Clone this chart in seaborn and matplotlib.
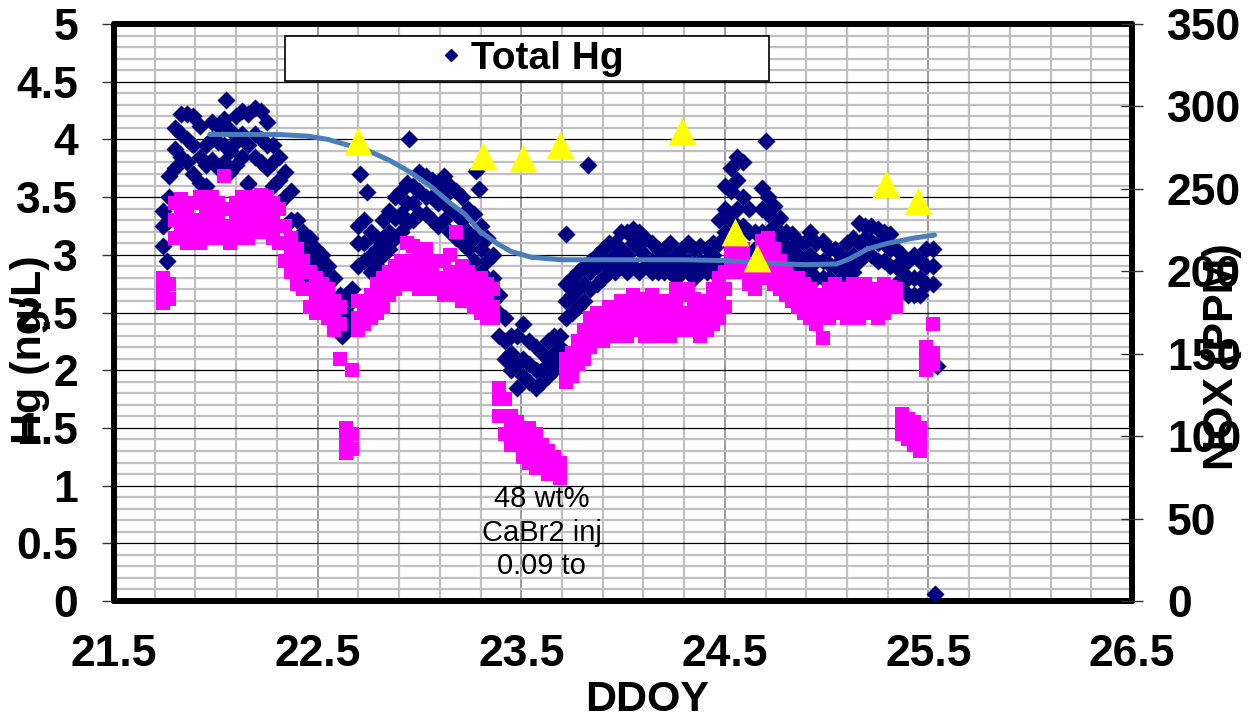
import numpy as np
import pandas as pd
import matplotlib
matplotlib.use("Agg")
import matplotlib.pyplot as plt
import seaborn as sns
from matplotlib.lines import Line2D
from matplotlib.patches import Rectangle

# ---------------- data ----------------
ddoy = [21.74, 21.77, 21.80, 21.83, 21.86, 21.89, 21.92, 21.95, 21.98, 22.01,
        22.04, 22.07, 22.10, 22.13, 22.16, 22.19, 22.22, 22.25, 22.28, 22.31,
        22.34, 22.37, 22.40, 22.43, 22.46, 22.49, 22.52, 22.55, 22.58, 22.61,
        22.64, 22.67, 22.70, 22.73, 22.76, 22.79, 22.82, 22.85, 22.88, 22.91,
        22.94, 22.97, 23.00, 23.03, 23.06, 23.09, 23.12, 23.15, 23.18, 23.21,
        23.24, 23.27, 23.30, 23.33, 23.36, 23.39, 23.42, 23.45, 23.48, 23.51,
        23.54, 23.57, 23.60, 23.63, 23.66, 23.69, 23.72, 23.75, 23.78, 23.81,
        23.84, 23.87, 23.90, 23.93, 23.96, 23.99, 24.02, 24.05, 24.08, 24.11,
        24.14, 24.17, 24.20, 24.23, 24.26, 24.29, 24.32, 24.35, 24.38, 24.41,
        24.44, 24.47, 24.50, 24.53, 24.56, 24.59, 24.62, 24.65, 24.68, 24.71,
        24.74, 24.77, 24.80, 24.83, 24.86, 24.89, 24.92, 24.95, 24.98, 25.01,
        25.04, 25.07, 25.10, 25.13, 25.16, 25.19, 25.22, 25.25, 25.28, 25.31,
        25.34, 25.37, 25.40, 25.43, 25.46, 25.49, 25.52]

total_hg_lo = [3.08, 3.30, 3.75, 3.85, 3.80, 3.70, 3.62, 3.60, 3.82, 3.75,
               3.80, 3.72, 3.78, 3.85, 3.62, 3.85, 3.80, 3.75, 3.60, 3.45,
               3.25, 3.10, 2.95, 2.85, 2.80, 2.75, 2.70, 2.60, 2.45, 2.40,
               2.35, 2.45, 2.90, 2.95, 2.85, 2.90, 3.00, 3.05, 3.15, 3.20,
               3.28, 3.30, 3.35, 3.35, 3.30, 3.25, 3.30, 3.20, 3.15, 3.10,
               3.05, 2.95, 2.85, 2.75, 2.60, 2.30, 2.10, 2.00, 1.85, 1.95,
               1.90, 1.85, 1.90, 1.95, 2.00, 2.10, 2.45, 2.50, 2.55, 2.60,
               2.70, 2.75, 2.80, 2.85, 2.85, 2.90, 2.85, 2.90, 2.85, 2.90,
               2.85, 2.85, 2.85, 2.85, 2.80, 2.85, 2.85, 2.80, 2.85, 2.85,
               2.85, 2.90, 3.20, 3.30, 3.40, 3.25, 3.00, 2.95, 3.20, 3.15,
               3.10, 3.00, 2.95, 2.90, 2.85, 2.85, 2.85, 2.80, 2.80, 2.80,
               2.75, 2.80, 2.85, 2.85, 2.95, 3.00, 3.00, 2.95, 2.95, 2.90,
               2.75, 2.70, 2.65, 2.65, 2.65, 2.75, 2.75]
total_hg_mid = [3.25, 3.50, 3.92, 4.05, 4.00, 3.95, 3.85, 3.78, 4.00, 3.98,
                3.95, 3.90, 3.98, 4.05, 3.95, 4.05, 4.00, 3.95, 3.80, 3.65,
                3.50, 3.30, 3.10, 3.05, 3.00, 2.90, 2.85, 2.75, 2.60, 2.50,
                2.50, 2.60, 3.10, 3.10, 3.00, 3.05, 3.15, 3.20, 3.32, 3.35,
                3.45, 3.45, 3.55, 3.50, 3.50, 3.45, 3.50, 3.40, 3.35, 3.30,
                3.20, 3.15, 3.05, 2.95, 2.80, 2.50, 2.25, 2.15, 2.05, 2.10,
                2.05, 2.00, 2.00, 2.10, 2.15, 2.20, 2.60, 2.65, 2.70, 2.75,
                2.85, 2.90, 2.95, 2.95, 3.00, 3.05, 3.00, 3.10, 3.05, 3.00,
                2.95, 2.95, 2.95, 2.95, 2.90, 2.95, 2.95, 2.92, 2.95, 2.95,
                3.00, 3.10, 3.40, 3.55, 3.65, 3.50, 3.20, 3.05, 3.40, 3.35,
                3.25, 3.15, 3.08, 3.05, 3.00, 2.95, 3.00, 2.95, 2.95, 2.92,
                2.90, 2.90, 2.95, 3.00, 3.10, 3.15, 3.12, 3.10, 3.10, 3.05,
                2.90, 2.85, 2.80, 2.80, 2.80, 2.90, 2.90]
total_hg_hi = [3.38, 3.68, 4.10, 4.22, 4.22, 4.20, 4.12, 3.95, 4.15, 4.12,
               4.18, 4.08, 4.20, 4.25, 4.22, 4.27, 4.25, 4.15, 3.95, 3.85,
               3.72, 3.55, 3.30, 3.20, 3.15, 3.05, 3.00, 2.90, 2.80, 2.65,
               2.65, 2.70, 3.25, 3.30, 3.20, 3.15, 3.30, 3.38, 3.50, 3.55,
               3.62, 3.60, 3.72, 3.68, 3.65, 3.60, 3.68, 3.60, 3.55, 3.50,
               3.40, 3.35, 3.25, 3.15, 3.00, 2.65, 2.45, 2.30, 2.30, 2.40,
               2.25, 2.20, 2.15, 2.25, 2.30, 2.30, 2.75, 2.80, 2.85, 2.90,
               2.95, 3.00, 3.05, 3.10, 3.10, 3.20, 3.20, 3.22, 3.20, 3.15,
               3.10, 3.05, 3.05, 3.10, 3.00, 3.05, 3.10, 3.05, 3.08, 3.05,
               3.10, 3.30, 3.60, 3.75, 3.85, 3.80, 3.40, 3.20, 3.58, 3.50,
               3.42, 3.32, 3.20, 3.18, 3.12, 3.10, 3.20, 3.10, 3.12, 3.05,
               3.05, 3.00, 3.10, 3.15, 3.28, 3.25, 3.25, 3.22, 3.20, 3.18,
               3.05, 3.00, 2.95, 3.00, 2.95, 3.05, 3.05]
total_hg_extra_x = [21.76, 22.05, 22.16, 22.62, 22.71, 22.74, 22.95, 23.28,
                    23.29, 23.72, 23.83, 24.70, 25.53, 25.54]
total_hg_extra_y = [2.95, 4.34, 3.61, 2.30, 3.70, 3.54, 4.00, 3.73,
                    3.57, 3.18, 3.78, 3.99, 0.06, 2.04]

elem_hg_lo = [2.58, 2.62, 3.15, 3.20, 3.10, 3.15, 3.10, 3.15, 3.20, 3.15,
              3.20, 3.10, 3.15, 3.20, 3.15, 3.20, 3.25, 3.20, 3.15, 3.10,
              2.95, 2.85, 2.75, 2.70, 2.55, 2.50, 2.50, 2.45, 2.35, 2.10,
              1.28, 1.32, 2.35, 2.40, 2.45, 2.50, 2.55, 2.65, 2.70, 2.75,
              2.80, 2.75, 2.70, 2.75, 2.70, 2.70, 2.65, 2.70, 2.65, 2.60,
              2.60, 2.55, 2.50, 2.45, 2.45, 1.60, 1.45, 1.35, 1.35, 1.25,
              1.20, 1.15, 1.15, 1.10, 1.10, 1.07, 1.90, 1.95, 2.05, 2.10,
              2.20, 2.25, 2.25, 2.30, 2.30, 2.35, 2.30, 2.35, 2.40, 2.30,
              2.35, 2.30, 2.35, 2.30, 2.40, 2.35, 2.40, 2.35, 2.30, 2.35,
              2.40, 2.45, 2.55, 2.85, 2.85, 2.90, 2.75, 2.70, 2.85, 2.80,
              2.75, 2.70, 2.65, 2.60, 2.55, 2.50, 2.45, 2.40, 2.28, 2.45,
              2.50, 2.50, 2.45, 2.50, 2.45, 2.50, 2.50, 2.45, 2.50, 2.55,
              2.55, 1.45, 1.40, 1.35, 1.30, 2.00, 2.05]
elem_hg_mid = [2.70, 2.75, 3.30, 3.35, 3.25, 3.30, 3.25, 3.30, 3.35, 3.30,
               3.40, 3.25, 3.30, 3.35, 3.30, 3.35, 3.40, 3.35, 3.30, 3.25,
               3.10, 3.00, 2.90, 2.85, 2.70, 2.65, 2.60, 2.55, 2.50, 2.40,
               1.40, 1.45, 2.45, 2.50, 2.55, 2.60, 2.70, 2.75, 2.80, 2.85,
               2.95, 2.90, 2.85, 2.88, 2.85, 2.80, 2.80, 2.85, 2.80, 2.75,
               2.72, 2.70, 2.65, 2.60, 2.55, 1.75, 1.60, 1.50, 1.45, 1.40,
               1.35, 1.30, 1.25, 1.20, 1.15, 1.12, 2.00, 2.05, 2.15, 2.25,
               2.35, 2.40, 2.35, 2.45, 2.40, 2.50, 2.45, 2.50, 2.50, 2.45,
               2.50, 2.45, 2.50, 2.45, 2.55, 2.50, 2.50, 2.50, 2.45, 2.50,
               2.55, 2.60, 2.70, 2.95, 2.95, 3.00, 2.85, 2.80, 3.00, 3.00,
               2.90, 2.80, 2.75, 2.70, 2.65, 2.60, 2.55, 2.50, 2.45, 2.55,
               2.60, 2.60, 2.55, 2.60, 2.55, 2.62, 2.60, 2.55, 2.60, 2.65,
               2.62, 1.55, 1.50, 1.45, 1.40, 2.10, 2.15]
elem_hg_hi = [2.80, np.nan, 3.45, 3.48, 3.42, 3.45, 3.50, 3.40, 3.50, 3.45,
              3.68, 3.40, 3.45, 3.50, 3.45, 3.50, 3.52, 3.50, 3.45, 3.40,
              3.25, 3.15, 3.05, 2.95, 2.85, 2.80, 2.75, 2.70, 2.60, 2.55,
              1.50, 2.00, 2.60, 2.60, 2.65, 2.75, 2.80, 2.85, 2.90, 2.95,
              3.10, 3.08, 3.00, 3.05, 2.95, 2.95, 2.95, 3.00, 3.20, 2.90,
              2.85, 2.80, 2.80, 2.75, 2.70, 1.85, 1.75, 1.60, 1.55, 1.50,
              1.50, 1.45, 1.35, 1.30, 1.25, 1.20, 2.10, 2.15, 2.25, 2.35,
              2.45, 2.50, 2.50, 2.55, 2.55, 2.60, 2.60, 2.65, 2.62, 2.60,
              2.65, 2.55, 2.60, 2.60, 2.70, 2.65, 2.70, 2.62, 2.60, 2.60,
              2.70, 2.80, 2.85, 3.05, 3.00, 3.05, 2.92, 2.90, 3.12, 3.15,
              3.05, 2.95, 2.85, 2.80, 2.80, 2.75, 2.70, 2.65, 2.60, 2.70,
              2.75, 2.70, 2.70, 2.75, 2.70, 2.75, 2.70, 2.70, 2.75, 2.72,
              2.70, 1.62, 1.58, 1.55, 1.50, 2.20, 2.40]

triangle_x = [22.70, 23.31, 23.51, 23.69, 24.29, 24.55, 24.66, 25.29, 25.45]
triangle_y = [3.99, 3.86, 3.84, 3.95, 4.07, 3.20, 2.97, 3.61, 3.47]

nox_x = [21.97, 22.10, 22.30, 22.45, 22.55, 22.65, 22.75, 22.85, 22.95, 23.05,
         23.15, 23.22, 23.30, 23.38, 23.45, 23.55, 23.70, 24.00, 24.30, 24.50,
         24.70, 24.90, 25.05, 25.12, 25.20, 25.30, 25.42, 25.53]
nox_ppm = [283, 283, 283, 282, 280, 276.5, 273, 267.5, 260.5, 252,
           241.5, 235, 224, 217, 212, 208.5, 207, 207, 207, 206.5,
           205, 204, 204.5, 208, 213.5, 217, 220, 222]

hg_ticks = [0, 0.5, 1, 1.5, 2, 2.5, 3, 3.5, 4, 4.5, 5]
hg_tick_labels = ["0", "0.5", "1", "1.5", "2", "2.5", "3", "3.5", "4", "4.5", "5"]
nox_ticks = [0, 50, 100, 150, 200, 250, 300, 350]
ddoy_ticks = [21.5, 22.5, 23.5, 24.5, 25.5, 26.5]
ddoy_tick_labels = ["21.5", "22.5", "23.5", "24.5", "25.5", "26.5"]

# ---------------- tables ----------------
total_df = pd.DataFrame({
    "DDOY": ddoy * 3 + total_hg_extra_x,
    "Hg": total_hg_lo + total_hg_mid + total_hg_hi + total_hg_extra_y,
})
elem_df = pd.DataFrame({
    "DDOY": ddoy * 3,
    "Hg": elem_hg_lo + elem_hg_mid + elem_hg_hi,
}).dropna()
tri_df = pd.DataFrame({"DDOY": triangle_x, "Hg": triangle_y})
nox_df = pd.DataFrame({"DDOY": nox_x, "NOX": nox_ppm})

# ---------------- style ----------------
sns.set_style("white")
plt.rcParams["font.family"] = ["Liberation Sans", "DejaVu Sans"]
plt.rcParams["text.color"] = "black"
plt.rcParams["xtick.color"] = "black"
plt.rcParams["ytick.color"] = "black"
plt.rcParams["axes.labelcolor"] = "black"

fig = plt.figure(figsize=(12.52, 7.21), dpi=100)
ax = fig.add_axes([0.0911, 0.1664, 0.8131, 0.8003])

sns.scatterplot(data=total_df, x="DDOY", y="Hg", marker="D", color="#000080",
                s=85, linewidth=0, ax=ax, zorder=3, legend=False)
sns.scatterplot(data=elem_df, x="DDOY", y="Hg", marker="s", color="#FF00FF",
                s=100, linewidth=0, ax=ax, zorder=4, legend=False)

ax.set_xlim(21.5, 26.5)
ax.set_ylim(0, 5)
ax.set_xticks(ddoy_ticks)
ax.set_xticklabels(ddoy_tick_labels)
ax.set_xticks(np.arange(21.5, 26.51, 0.2), minor=True)
ax.set_yticks(hg_ticks)
ax.set_yticklabels(hg_tick_labels)
ax.set_yticks(np.arange(0, 5.001, 0.1), minor=True)
ax.set_axisbelow(True)
ax.grid(which="minor", color="#c0c0c0", linewidth=1.6)
ax.grid(which="major", axis="y", color="black", linewidth=0.9)
ax.grid(which="major", axis="x", color="#808080", linewidth=1.1)
ax.tick_params(which="minor", length=0)
ax.tick_params(axis="both", which="major", direction="out", length=9, width=1,
               color="#333333", labelsize=32, labelcolor="black")
ax.tick_params(axis="y", pad=17)
ax.tick_params(axis="x", pad=15)
for lab in ax.get_xticklabels() + ax.get_yticklabels():
    lab.set_fontweight("bold")
for sp in ax.spines.values():
    sp.set_linewidth(4.3)
    sp.set_color("black")
    sp.set_capstyle("round")
    sp.set_joinstyle("round")
ax.set_xlabel("")
ax.set_ylabel("")

# annotation
ax.text(23.6, 0.59, "48 wt%\nCaBr2 inj\n0.09 to", ha="center", va="center",
        fontsize=21, linespacing=1.25, color="black", zorder=6)

# legend box
ax.add_patch(Rectangle((0.168, 0.901), 0.4754, 0.078, transform=ax.transAxes,
                       facecolor="white", edgecolor="black", linewidth=1.2,
                       zorder=7))
handle = Line2D([], [], marker="D", linestyle="", color="#000080", markersize=6)
leg = ax.legend(handles=[handle], labels=["Total Hg"], loc="center",
                bbox_to_anchor=(0.41, 0.94), frameon=False,
                prop=dict(weight="bold", size=28), handletextpad=0.2,
                handlelength=0.6, borderpad=0)
leg.set_zorder(8)

# right axis
ax2 = ax.twinx()
sns.lineplot(data=nox_df, x="DDOY", y="NOX", color="#4A7EBB", linewidth=3.6,
             ax=ax2, zorder=3)
ax2.set_ylim(0, 350)
ax2.set_yticks(nox_ticks)
ax2.set_yticklabels([str(t) for t in nox_ticks])
ax2.tick_params(axis="y", direction="inout", length=16, width=1, color="#333333",
                labelsize=32, labelcolor="black", pad=17)
for lab in ax2.get_yticklabels():
    lab.set_fontweight("bold")
for sp in ax2.spines.values():
    sp.set_visible(False)
ax2.set_xlabel("")
ax2.set_ylabel("")
ax2.grid(False)

# triangles on top
ax3 = ax.twinx()
ax3.set_ylim(0, 5)
ax3.set_axis_off()
sns.scatterplot(data=tri_df, x="DDOY", y="Hg", marker="^", color="#FFFF00",
                s=400, linewidth=0, ax=ax3, zorder=5, legend=False)
ax3.set_xlim(21.5, 26.5)

# axis titles
fig.text(30 / 1252, 1 - 350 / 721, "Hg (ng/L)", rotation=90, ha="center",
         va="center", fontsize=31, fontweight="bold")
fig.text(1222 / 1252, 1 - 357 / 721, "NOX (PPM)", rotation=90, ha="center",
         va="center", fontsize=31, fontweight="bold")
fig.text(647 / 1252, 1 - 700 / 721, "DDOY", ha="center", va="center",
         fontsize=31, fontweight="bold")

fig.savefig("out.png", dpi=100)
